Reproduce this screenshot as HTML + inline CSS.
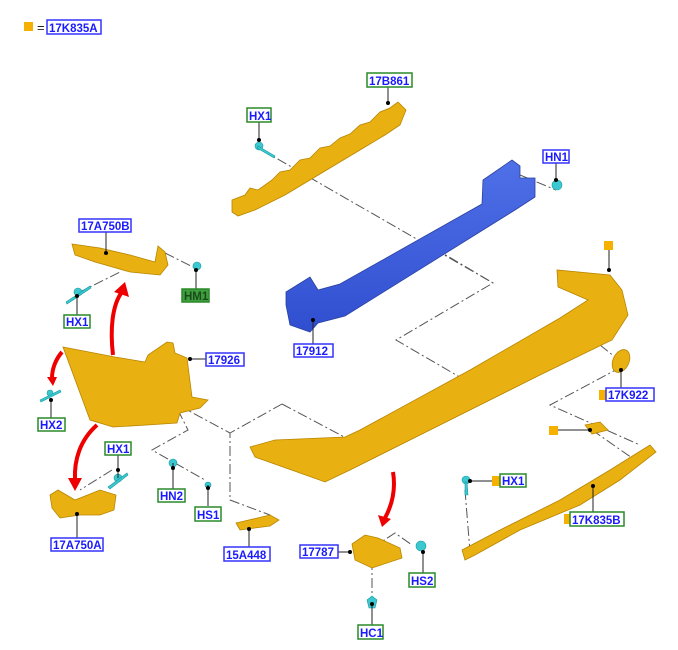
<!DOCTYPE html>
<html><head><meta charset="utf-8"><style>
html,body{margin:0;padding:0;background:#fff;}
svg{display:block;font-family:"Liberation Sans",sans-serif;}
.lb{font-size:11.5px;font-weight:bold;fill:#1a1aff;}
.dd{stroke:#555;stroke-width:1;fill:none;stroke-dasharray:10,3,2,3;}
.ld{stroke:#222;stroke-width:1;fill:none;}
.or{fill:#e8b010;stroke:#b88500;stroke-width:0.8;}
.cy{fill:#3cc8d0;stroke:#1a9aa0;stroke-width:0.6;}
.arr{stroke:#ee0000;stroke-width:4;fill:none;}
</style></head><body>
<svg width="678" height="650" viewBox="0 0 678 650">
<defs>
<linearGradient id="g" x1="0" y1="0" x2="0" y2="1"><stop offset="0" stop-color="#f5c21a"/><stop offset="1" stop-color="#d99a00"/></linearGradient>
<linearGradient id="b" x1="0" y1="0" x2="0" y2="1"><stop offset="0" stop-color="#5070e8"/><stop offset="1" stop-color="#2f4fd0"/></linearGradient>
</defs>
<!-- dash-dot lines -->
<path class="dd" d="M262,150 L493,283 L396,340 L470,383"/>
<path class="dd" d="M434,248 L493,283"/>
<path class="dd" d="M282,404 L350,440 M282,404 L230,433"/>
<path class="dd" d="M165,253 L195,268 M78,293 L120,272"/>
<path class="dd" d="M178,405 L230,433 L230,500 L270,515 M178,410 L188,430 L152,450 L175,463 L205,480"/>
<path class="dd" d="M520,175 L556,190"/>
<path class="dd" d="M600,345 L625,365 L550,405 L640,445 M592,430 L635,460"/>
<path class="dd" d="M465,490 L470,552 M372,548 L395,533 L412,545 M372,560 L372,600"/>
<path class="dd" d="M112,470 L80,490"/>
<!-- top reinforcement 17B861 -->
<path class="or" fill="url(#g)" d="M232,200 L245,195 L250,188 L258,190 L272,180 L280,172 L290,170 L300,160 L310,158 L320,148 L330,146 L340,138 L350,134 L360,125 L370,122 L380,112 L390,108 L398,102 L406,110 L400,125 L385,135 L360,150 L335,165 L310,180 L285,195 L255,210 L238,216 L232,212 Z"/>
<!-- blue beam -->
<path fill="url(#b)" stroke="#2a40a0" stroke-width="0.8" d="M286,292 L310,277 L318,290 L340,284 L482,204 L483,180 L512,160 L520,166 L520,178 L535,178 L535,197 L515,210 L345,316 L318,323 L310,332 L290,325 L286,305 Z"/>
<!-- bumper -->
<path class="or" fill="url(#g)" d="M250,447 L275,440 L345,437 L360,430 L470,370 L560,318 L588,300 L558,287 L557,270 L610,275 L622,290 L628,315 L612,340 L540,375 L430,430 L350,470 L325,482 L300,473 L255,457 Z"/>
<!-- left corner 17926 -->
<path class="or" fill="url(#g)" d="M63,347 L115,357 L145,362 L148,355 L167,342 L173,343 L175,353 L187,358 L192,397 L208,400 L200,408 L180,413 L177,423 L147,425 L113,427 L90,420 Z"/>
<!-- small parts -->
<path class="or" fill="url(#g)" d="M72,244 L100,248 L130,255 L155,262 L158,246 L165,252 L168,265 L160,275 L130,272 L95,262 L75,255 Z"/>
<path class="or" fill="url(#g)" d="M50,495 L58,490 L75,500 L100,490 L116,495 L114,510 L100,515 L80,515 L60,518 L52,508 Z"/>
<path class="or" fill="url(#g)" d="M236,523 L270,515 L279,520 L270,526 L240,530 Z"/>
<path class="or" fill="url(#g)" d="M352,544 L365,535 L378,538 L400,548 L402,558 L372,568 L355,560 Z"/>
<path class="or" fill="url(#g)" d="M462,550 L500,530 L560,500 L610,470 L650,445 L656,452 L620,480 L580,505 L520,530 L475,555 L465,560 Z"/>
<ellipse class="or" cx="621" cy="361" rx="8" ry="12" transform="rotate(25 621 361)"/>
<path class="or" d="M585,425 L600,422 L608,430 L592,434 Z"/>
<!-- clips -->
<circle class="cy" cx="259" cy="146" r="4"/><path class="cy" d="M258,146 L275,156 L274,158 L257,148Z"/>
<circle class="cy" cx="557" cy="185" r="5"/>
<circle class="cy" cx="197" cy="266" r="4"/>
<circle class="cy" cx="78" cy="292" r="4"/><path class="cy" d="M66,302 L90,286 L91,288 L67,304Z"/>
<circle class="cy" cx="50" cy="393" r="3"/><path class="cy" d="M40,400 L60,390 L61,392 L41,402Z"/>
<circle class="cy" cx="118" cy="478" r="4"/><path class="cy" d="M108,487 L127,473 L128,475 L110,489Z"/>
<circle class="cy" cx="173" cy="463" r="4"/>
<circle class="cy" cx="208" cy="485" r="3"/>
<circle class="cy" cx="421" cy="546" r="5"/>
<path class="cy" d="M372,596 L377,600 L375,608 L369,608 L367,600 Z"/>
<circle class="cy" cx="466" cy="480" r="4"/><path class="cy" d="M465,482 L467,482 L468,495 L465,495 Z"/>
<!-- red arrows -->
<path class="arr" d="M113,355 C110,330 112,305 122,292"/><path d="M114,292 L125,282 L129,297 Z" fill="#e00"/>
<path class="arr" stroke-width="2.5" d="M62,352 C55,360 52,370 52,378"/><path d="M47,377 L53,386 L57,377Z" fill="#e00"/>
<path class="arr" d="M97,425 C80,440 74,460 75,480"/><path d="M68,478 L75,491 L82,478Z" fill="#e00"/>
<path class="arr" stroke-width="3" d="M393,472 C396,490 392,505 385,518"/><path d="M378,515 L382,527 L391,519Z" fill="#e00"/>
<!-- leaders -->
<g class="ld">
<path d="M388,87 V103 M259,121 V140 M556,163 V180 M106,232 V253 M196,289 V270 M77,315 V296 M313,344 V318 M206,359 H190 M51,418 V400 M118,455 V478 M173,489 V463 M208,506 V485 M77,538 V512 M249,547 V527 M302,552 H350 M423,573 V550 M372,625 V604 M496,481 H470 M593,512 V486 M621,388 V370 M558,430 H590 M609,250 V270"/>
</g>
<g fill="#000">
<circle cx="388" cy="103" r="2"/><circle cx="259" cy="140" r="2"/><circle cx="556" cy="180" r="2"/><circle cx="106" cy="253" r="2"/><circle cx="196" cy="270" r="2"/><circle cx="77" cy="296" r="2"/><circle cx="313" cy="320" r="2"/><circle cx="190" cy="359" r="2"/><circle cx="51" cy="400" r="2"/><circle cx="118" cy="470" r="2"/><circle cx="173" cy="468" r="2"/><circle cx="208" cy="488" r="2"/><circle cx="77" cy="514" r="2"/><circle cx="249" cy="529" r="2"/><circle cx="350" cy="552" r="2"/><circle cx="423" cy="552" r="2"/><circle cx="372" cy="604" r="2"/><circle cx="470" cy="481" r="2"/><circle cx="593" cy="486" r="2"/><circle cx="621" cy="370" r="2"/><circle cx="590" cy="430" r="2"/><circle cx="609" cy="270" r="2"/>
</g>
<!-- orange squares -->
<g fill="#f5b000">
<rect x="24" y="22" width="9" height="9"/><rect x="604" y="241" width="9" height="9"/><rect x="549" y="426" width="9" height="9"/><rect x="599" y="390" width="8" height="10"/><rect x="492" y="476" width="8" height="10"/><rect x="564" y="514" width="8" height="10"/>
</g>
<text x="37" y="32" font-size="13" fill="#222">=</text>
<!-- labels -->
<g stroke-width="1.5" fill="#fff">
<rect x="47" y="20" width="54" height="14" stroke="#33f"/>
<rect x="367" y="73" width="45" height="14" stroke="#2a8a2a"/>
<rect x="247" y="108" width="24" height="14" stroke="#2a8a2a"/>
<rect x="543" y="150" width="26" height="13" stroke="#33f"/>
<rect x="79" y="219" width="52" height="13" stroke="#33f"/>
<rect x="182" y="289" width="27" height="13" stroke="#2a8a2a" fill="#3f9f3f"/>
<rect x="64" y="315" width="26" height="13" stroke="#2a8a2a"/>
<rect x="294" y="344" width="39" height="13" stroke="#33f"/>
<rect x="206" y="353" width="38" height="13" stroke="#33f"/>
<rect x="38" y="418" width="27" height="13" stroke="#2a8a2a"/>
<rect x="105" y="442" width="26" height="13" stroke="#2a8a2a"/>
<rect x="158" y="489" width="27" height="13" stroke="#2a8a2a"/>
<rect x="195" y="507" width="26" height="14" stroke="#2a8a2a"/>
<rect x="51" y="538" width="52" height="13" stroke="#33f"/>
<rect x="224" y="547" width="46" height="14" stroke="#33f"/>
<rect x="300" y="545" width="38" height="13" stroke="#33f"/>
<rect x="409" y="573" width="26" height="14" stroke="#2a8a2a"/>
<rect x="358" y="625" width="25" height="14" stroke="#2a8a2a"/>
<rect x="500" y="474" width="26" height="13" stroke="#2a8a2a"/>
<rect x="570" y="512" width="54" height="14" stroke="#2a8a2a"/>
<rect x="606" y="388" width="48" height="13" stroke="#33f"/>
</g>
<g class="lb">
<text x="49" y="32">17K835A</text>
<text x="369" y="85">17B861</text>
<text x="249" y="120">HX1</text>
<text x="545" y="161">HN1</text>
<text x="81" y="230">17A750B</text>
<text x="184" y="300" fill="#1a4a1a">HM1</text>
<text x="66" y="326">HX1</text>
<text x="296" y="355">17912</text>
<text x="208" y="364">17926</text>
<text x="40" y="429">HX2</text>
<text x="107" y="453">HX1</text>
<text x="160" y="500">HN2</text>
<text x="197" y="519">HS1</text>
<text x="53" y="549">17A750A</text>
<text x="226" y="559">15A448</text>
<text x="302" y="556">17787</text>
<text x="411" y="585">HS2</text>
<text x="360" y="637">HC1</text>
<text x="502" y="485">HX1</text>
<text x="572" y="524">17K835B</text>
<text x="608" y="399">17K922</text>
</g>
</svg>
</body></html>
